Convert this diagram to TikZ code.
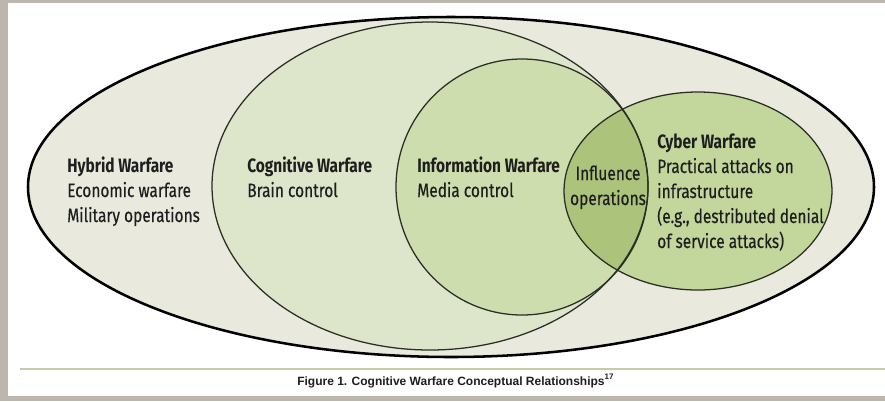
\documentclass[tikz,border=0pt]{standalone}
\usepackage{fontspec}
\newfontfamily\condfont[FakeStretch=0.80, UprightFeatures={FakeBold=0.35}]{Fira Sans}
\newfontfamily\capfont{Liberation Sans}
\definecolor{framecol}{HTML}{BDB6AE}
\definecolor{outerfill}{HTML}{E9EADD}
\definecolor{cogfill}{HTML}{DDE5CA}
\definecolor{infofill}{HTML}{CEDDAD}
\definecolor{cyberfill}{HTML}{C3D69B}
\definecolor{lensfill}{HTML}{ABC37B}
\definecolor{edgecol}{HTML}{2B2E25}
\definecolor{txtcol}{HTML}{1E1E1E}
\definecolor{rulecol}{HTML}{C6CCA9}
\tikzset{
  thinedge/.style={draw=edgecol, line width=0.95pt},
  thickedge/.style={draw=black, line width=1.9pt},
  label/.style={font=\condfont\fontsize{14.5pt}{18.75pt}\selectfont, text=txtcol, inner sep=0pt, align=left, anchor=base west},
}
\begin{document}
\begin{tikzpicture}[x=0.75pt, y=-0.75pt]
\useasboundingbox (0,0) rectangle (885,401);
% frame
\fill[framecol] (0,0) rectangle (885,401);
\fill[white] (8,3) rectangle (885,396);
% fills
\fill[outerfill] (451,187) ellipse [x radius=317.25pt, y radius=127.5pt];
\fill[cogfill] (430,186) ellipse [x radius=163.5pt, y radius=123pt];
\fill[infofill] (522,187) ellipse [x radius=94.5pt, y radius=96pt];
\fill[cyberfill] (698,191) ellipse [x radius=100.5pt, y radius=74.25pt];
\begin{scope}
  \clip (522,187) ellipse [x radius=94.5pt, y radius=96pt];
  \fill[lensfill] (698,191) ellipse [x radius=100.5pt, y radius=74.25pt];
\end{scope}
% outlines
\draw[thickedge] (451,187) ellipse [x radius=317.25pt, y radius=127.5pt];
\draw[thinedge] (430,186) ellipse [x radius=163.5pt, y radius=123pt];
\draw[thinedge] (522,187) ellipse [x radius=94.5pt, y radius=96pt];
\draw[thinedge] (698,191) ellipse [x radius=100.5pt, y radius=74.25pt];
% texts (anchor = baseline of last line)
\node[label] (hybrid) at (67,222) {\bfseries Hybrid Warfare\\Economic warfare\\Military operations};
\node[label] (cog) at (247,197) {\bfseries Cognitive Warfare\\Brain control};
\node[label] (info) at (417,197) {\bfseries Information Warfare\\Media control};
\node[label, align=center, anchor=base] (infl) at (608,205) {Influence\\operations};
\node[label] (cyber) at (657,248) {\bfseries Cyber Warfare\\Practical attacks on\\infrastructure\\(e.g., destributed denial\\of service attacks)};
% rule and caption
\coordinate (ruleL) at (20,369);
\coordinate (ruleR) at (885,369);
\draw[rulecol, line width=1.1pt] (ruleL) -- (ruleR);
\node[font=\capfont\bfseries\fontsize{9pt}{10pt}\selectfont, text=txtcol, inner sep=0pt, anchor=base west] (caption) at (297,385) {Figure 1. Cognitive Warfare Conceptual Relationships\textsuperscript{17}};
\end{tikzpicture}
\end{document}
